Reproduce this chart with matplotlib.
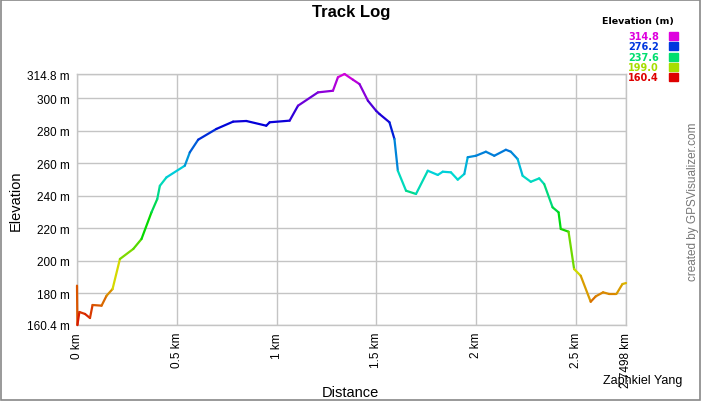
import numpy as np
import matplotlib
matplotlib.use("Agg")
import matplotlib.pyplot as plt
from matplotlib.collections import LineCollection
from matplotlib.colors import hsv_to_rgb
from matplotlib.patches import Rectangle

plt.rcParams['font.family'] = ['Liberation Sans', 'DejaVu Sans']

# track data (distance km, elevation m)
dist = [0.000, 0.002, 0.012, 0.040, 0.065, 0.078, 0.123, 0.148, 0.178, 0.215,
        0.282, 0.323, 0.373, 0.402, 0.415, 0.448, 0.540, 0.565, 0.607, 0.698,
        0.782, 0.848, 0.948, 0.965, 1.065, 1.107, 1.207, 1.282, 1.307, 1.340,
        1.382, 1.415, 1.457, 1.498, 1.515, 1.565, 1.590, 1.607, 1.648, 1.698,
        1.757, 1.807, 1.832, 1.873, 1.907, 1.940, 1.957, 1.998, 2.048, 2.090,
        2.148, 2.173, 2.207, 2.232, 2.273, 2.315, 2.340, 2.382, 2.412, 2.423,
        2.462, 2.490, 2.523, 2.573, 2.598, 2.635, 2.665, 2.702, 2.732, 2.7498]
elev = [184.6, 160.4, 168.4, 167.2, 164.7, 172.7, 172.3, 178.4, 182.5, 201.0,
        207.2, 213.3, 229.7, 237.9, 246.0, 251.2, 258.4, 266.6, 274.4, 281.0,
        285.5, 285.9, 283.0, 285.1, 286.1, 295.3, 303.5, 304.5, 312.8, 314.8,
        311.3, 308.6, 298.4, 292.2, 290.2, 285.1, 274.8, 255.3, 243.0, 241.0,
        255.3, 252.7, 254.7, 254.3, 249.8, 253.3, 263.6, 264.5, 267.0, 264.5,
        268.2, 267.0, 262.5, 252.2, 248.5, 250.6, 247.1, 232.8, 229.7, 219.5,
        217.8, 194.8, 190.7, 174.7, 178.0, 180.5, 179.5, 179.5, 185.6, 186.2]

emin, emax = 160.4, 314.8
y_ticks = [160.4, 180, 200, 220, 240, 260, 280, 300, 314.8]
y_labels = ['160.4 m', '180 m', '200 m', '220 m', '240 m', '260 m', '280 m', '300 m', '314.8 m']
x_ticks = [0, 0.5, 1, 1.5, 2, 2.5, 2.7498]
x_labels = ['0 km', '0.5 km', '1 km', '1.5 km', '2 km', '2.5 km', '2.7498 km']
legend_vals = [314.8, 276.2, 237.6, 199.0, 160.4]


def elev_color(e, v=0.87):
    # hue runs red -> yellow -> green -> cyan -> blue -> magenta with elevation
    h = (e - emin) / (emax - emin) * 300.0 / 360.0
    return hsv_to_rgb([h, 1.0, v])


W, H = 702, 402
fig = plt.figure(figsize=(W / 100, H / 100), dpi=100)
ax = fig.add_axes([77 / W, (H - 326) / H, (626 - 77) / W, (326 - 75) / H])

pts = np.column_stack([dist, elev])
segs = np.stack([pts[:-1], pts[1:]], axis=1)
mids = (np.array(elev[:-1]) + np.array(elev[1:])) / 2
lc = LineCollection(segs, colors=[elev_color(m, 0.85) for m in mids], linewidths=1.6,
                    capstyle='round', joinstyle='round', zorder=3)
lc.set_clip_on(False)
ax.add_collection(lc)

ax.set_xlim(0, 2.7498)
ax.set_ylim(emin, emax)
ax.set_yticks(y_ticks)
ax.set_yticklabels(y_labels, fontsize=8.5)
ax.set_xticks(x_ticks)
ax.set_xticklabels(x_labels, fontsize=8.5, rotation=90)
ax.tick_params(length=0, pad=5)
ax.grid(True, color='#c4c4c4', linewidth=1)
for s in ax.spines.values():
    s.set_color('#c4c4c4')
    s.set_linewidth(1)

# texts
fig.text(351 / W, 1 - 13 / H, 'Track Log', ha='center', va='center',
         fontsize=12, fontweight='bold')
fig.text(16 / W, 1 - 201 / H, 'Elevation', ha='center', va='center',
         rotation=90, fontsize=10.5)
fig.text(350 / W, 1 - 393 / H, 'Distance', ha='center', va='center', fontsize=10.5)
fig.text(643 / W, 1 - 381 / H, 'Zaphkiel Yang', ha='center', va='center', fontsize=9)
fig.text(693 / W, 1 - 202 / H, 'created by GPSVisualizer.com', ha='center', va='center',
         rotation=90, fontsize=8.5, color='#777777')

# legend
fig.text(674 / W, 1 - 21.5 / H, 'Elevation (m)', ha='right', va='center',
         fontsize=6.8, fontweight='bold', family='DejaVu Sans')
row_y = [37, 47.3, 57.6, 67.9, 78.2]
for v, yy in zip(legend_vals, row_y):
    c = elev_color(v)
    fig.text(659 / W, 1 - yy / H, f'{v:.1f}', ha='right', va='center',
             fontsize=7, fontweight='bold', color=c, family='DejaVu Sans')
    fig.patches.append(Rectangle((668.5 / W, 1 - (yy + 4) / H), 9 / W, 8 / H,
                                 transform=fig.transFigure, color=c))

fig.patches.append(Rectangle((0.5 / W, 1.5 / H), (W - 3) / W, (H - 2) / H,
                             transform=fig.transFigure, fill=False,
                             edgecolor='#888888', linewidth=1.2))

fig.savefig('out.png', dpi=100)
